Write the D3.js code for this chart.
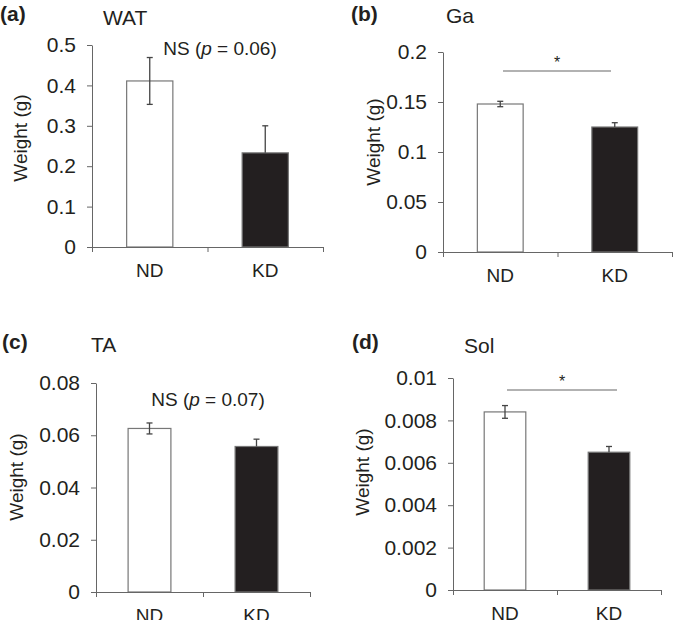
<!DOCTYPE html>
<html>
  <head>
    <title>Tissue weights</title>
    <script src="https://d3js.org/d3.v7.min.js"></script>
    <style>
      body { margin: 0; background: #fff; }
      text { font-family: "Liberation Sans", Arial, sans-serif; fill: #231f20; }
    </style>
  </head>
  <body>
    <svg width="673" height="620"></svg>
    <script>
      const groups = ["ND", "KD"];
      const watMean = [0.411, 0.233];
      const watErr = [0.058, 0.067];
      const gaMean = [0.148, 0.125];
      const gaErr = [0.0027, 0.0043];
      const taMean = [0.0626, 0.0557];
      const taErr = [0.0021, 0.0028];
      const solMean = [0.0084, 0.0065];
      const solErr = [0.0003, 0.00027];
      const watTicks = [0, 0.1, 0.2, 0.3, 0.4, 0.5];
      const gaTicks = [0, 0.05, 0.1, 0.15, 0.2];
      const taTicks = [0, 0.02, 0.04, 0.06, 0.08];
      const solTicks = [0, 0.002, 0.004, 0.006, 0.008, 0.01];

      const fills = ["#ffffff", "#231f20"];
      const svg = d3.select("svg");

      const panels = [
        {tag: "(a)", title: "WAT", mean: watMean, err: watErr, ticks: watTicks,
         x0: 92, x1: 323, yTop: 45, y0: 247,
         tagX: 0, tagY: 21, titleX: 103, titleY: 25, ylabX: 27, ylabY: 138,
         note: {text: "NS", p: "0.06", x: 220, y: 55}},
        {tag: "(b)", title: "Ga", mean: gaMean, err: gaErr, ticks: gaTicks,
         x0: 443, x1: 672, yTop: 52, y0: 252,
         tagX: 351, tagY: 21, titleX: 446, titleY: 23, ylabX: 380, ylabY: 142,
         star: {from: 503, to: 611, y: 71}},
        {tag: "(c)", title: "TA", mean: taMean, err: taErr, ticks: taTicks,
         x0: 96, x1: 310, yTop: 383, y0: 592,
         tagX: 2, tagY: 349, titleX: 91, titleY: 352, ylabX: 23, ylabY: 477,
         note: {text: "NS", p: "0.07", x: 208, y: 406}},
        {tag: "(d)", title: "Sol", mean: solMean, err: solErr, ticks: solTicks,
         x0: 453, x1: 661, yTop: 378, y0: 590,
         tagX: 352, tagY: 349, titleX: 464, titleY: 353, ylabX: 369, ylabY: 472,
         star: {from: 507, to: 617, y: 390}}
      ];

      panels.forEach(p => {
        const g = svg.append("g");
        const x = d3.scaleBand().domain(groups).range([p.x0, p.x1]);
        const y = d3.scaleLinear().domain([0, d3.max(p.ticks)]).range([p.y0, p.yTop]);
        const edge = d3.scaleLinear().domain([0, groups.length]).range([p.x0, p.x1]);
        const bw = x.bandwidth() * 0.4;

        // y axis
        const ya = g.append("g")
          .attr("transform", `translate(${p.x0},0)`)
          .call(d3.axisLeft(y).tickValues(p.ticks).tickSize(5).tickSizeOuter(0).tickPadding(11)
            .tickFormat(d => String(+d.toFixed(4))));
        ya.select(".domain").attr("stroke", "#666");
        ya.selectAll(".tick line").attr("stroke", "#666");
        ya.selectAll(".tick text").style("font-size", "21px").attr("fill", "#231f20");

        // bars
        g.selectAll(".bar").data(groups).enter().append("rect")
          .attr("x", d => x(d) + (x.bandwidth() - bw) / 2)
          .attr("width", bw)
          .attr("y", (d, i) => y(p.mean[i]))
          .attr("height", (d, i) => y(0) - y(p.mean[i]))
          .attr("fill", (d, i) => fills[i])
          .attr("stroke", "#777")
          .attr("stroke-width", 1.2);

        // error bars (lower half hidden on the dark bar)
        groups.forEach((d, i) => {
          const cx = x(d) + x.bandwidth() / 2;
          const hi = y(p.mean[i] + p.err[i]);
          const lo = i === 0 ? y(p.mean[i] - p.err[i]) : y(p.mean[i]);
          g.append("line").attr("x1", cx).attr("x2", cx).attr("y1", hi).attr("y2", lo)
            .attr("stroke", "#444").attr("stroke-width", 1.3);
          g.append("line").attr("x1", cx - 3).attr("x2", cx + 3).attr("y1", hi).attr("y2", hi)
            .attr("stroke", "#444").attr("stroke-width", 1.3);
          if (i === 0) {
            g.append("line").attr("x1", cx - 3).attr("x2", cx + 3).attr("y1", lo).attr("y2", lo)
              .attr("stroke", "#444").attr("stroke-width", 1.3);
          }
        });

        // x axis with boundary ticks
        const xa = g.append("g")
          .attr("transform", `translate(0,${p.y0})`)
          .call(d3.axisBottom(edge).ticks(groups.length).tickSize(5).tickSizeOuter(0).tickFormat(""));
        xa.select(".domain").attr("stroke", "#666");
        xa.selectAll(".tick line").attr("stroke", "#666");

        g.selectAll(".xlab").data(groups).enter().append("text")
          .attr("x", d => x(d) + x.bandwidth() / 2)
          .attr("y", p.y0 + 29.5)
          .attr("text-anchor", "middle")
          .style("font-size", "19px")
          .text(d => d);

        // labels
        g.append("text").attr("x", p.tagX).attr("y", p.tagY)
          .style("font-size", "21px").style("font-weight", "bold").text(p.tag);
        g.append("text").attr("x", p.titleX).attr("y", p.titleY)
          .style("font-size", "21px").text(p.title);
        g.append("text")
          .attr("transform", `translate(${p.ylabX},${p.ylabY}) rotate(-90)`)
          .attr("text-anchor", "middle")
          .style("font-size", "19px")
          .text("Weight (g)");

        if (p.note) {
          const t = g.append("text").attr("x", p.note.x).attr("y", p.note.y)
            .attr("text-anchor", "middle").style("font-size", "19px");
          t.append("tspan").text(p.note.text + " (");
          t.append("tspan").style("font-style", "italic").text("p");
          t.append("tspan").text(" = " + p.note.p + ")");
        }
        if (p.star) {
          g.append("line").attr("x1", p.star.from).attr("x2", p.star.to)
            .attr("y1", p.star.y).attr("y2", p.star.y)
            .attr("stroke", "#999").attr("stroke-width", 1.3);
          g.append("text").attr("x", (p.star.from + p.star.to) / 2).attr("y", p.star.y - 3)
            .attr("text-anchor", "middle").style("font-size", "16px").text("*");
        }
      });
    </script>
  </body>
</html>
